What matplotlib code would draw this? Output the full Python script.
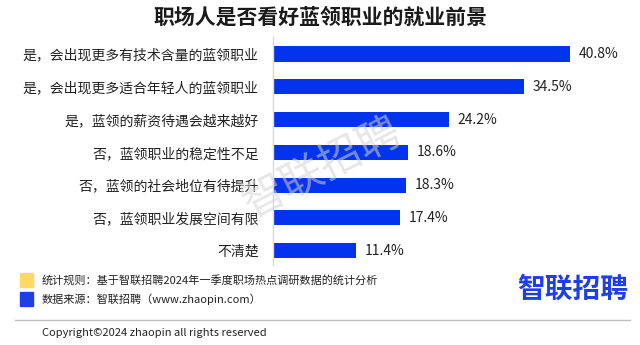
import numpy as np
import matplotlib.pyplot as plt
from matplotlib.patches import Rectangle

plt.rcParams['font.family'] = ['Noto Sans CJK SC', 'DejaVu Sans']

categories = ["是，会出现更多有技术含量的蓝领职业",
              "是，会出现更多适合年轻人的蓝领职业",
              "是，蓝领的薪资待遇会越来越好",
              "否，蓝领职业的稳定性不足",
              "否，蓝领的社会地位有待提升",
              "否，蓝领职业发展空间有限",
              "不清楚"]
values = [40.8, 34.5, 24.2, 18.6, 18.3, 17.4, 11.4]

bar_color = "#0433EE"

fig = plt.figure(figsize=(6.4, 3.45), dpi=100)
ax = fig.add_axes([0.4258, 0.2319, 0.5703, 0.6609])

y = np.arange(len(categories))
ax.barh(y, values, height=0.46, color=bar_color)
for yi, v in zip(y, values):
    ax.text(v + 1.2, yi, "{:.1f}%".format(v), va="center", ha="left",
            fontsize=10, color="#222222")

ax.set_xlim(0, 50)
ax.set_ylim(6.44, -0.52)
ax.set_yticks(y)
ax.set_yticklabels(categories, fontsize=10, color="#222222")
ax.tick_params(axis="y", length=0, pad=10)
ax.set_xticks([])
for s in ["top", "right", "bottom"]:
    ax.spines[s].set_visible(False)
ax.spines["left"].set_color("#d9d9d9")
ax.spines["left"].set_linewidth(1)

# title
fig.text(0.5, 1 - 17 / 345, "职场人是否看好蓝领职业的就业前景", ha="center", va="center",
         fontsize=15, fontweight="bold", color="#1a1a1a")

# watermark
fig.text(0.503, 0.513, "智联招聘", ha="center", va="center", fontsize=31,
         rotation=27, color="#d4d4d4", alpha=0.55, zorder=10)

# footer
fig.patches.append(Rectangle((20 / 640, 1 - 287 / 345), 13 / 640, 14 / 345,
                             transform=fig.transFigure, color="#FFD966"))
fig.patches.append(Rectangle((20 / 640, 1 - 306 / 345), 13 / 640, 14 / 345,
                             transform=fig.transFigure, color="#1F3FE6"))
fig.text(42 / 640, 1 - 280 / 345, "统计规则：基于智联招聘2024年一季度职场热点调研数据的统计分析",
         fontsize=8, va="center", color="#222222")
fig.text(42 / 640, 1 - 299 / 345, "数据来源：智联招聘（www.zhaopin.com）",
         fontsize=8, va="center", color="#222222")
fig.text(628 / 640, 1 - 290 / 345, "智联招聘", ha="right", va="center",
         fontsize=20, fontweight="bold", color="#1F3FE6")
fig.add_artist(plt.Line2D([15 / 640, 630 / 640], [1 - 320 / 345, 1 - 320 / 345],
                          transform=fig.transFigure, color="#bfbfbf", linewidth=1))
fig.text(42 / 640, 1 - 333 / 345, "Copyright©2024 zhaopin all rights reserved",
         fontsize=8, va="center", color="#222222")

fig.savefig("out.png", dpi=100)
